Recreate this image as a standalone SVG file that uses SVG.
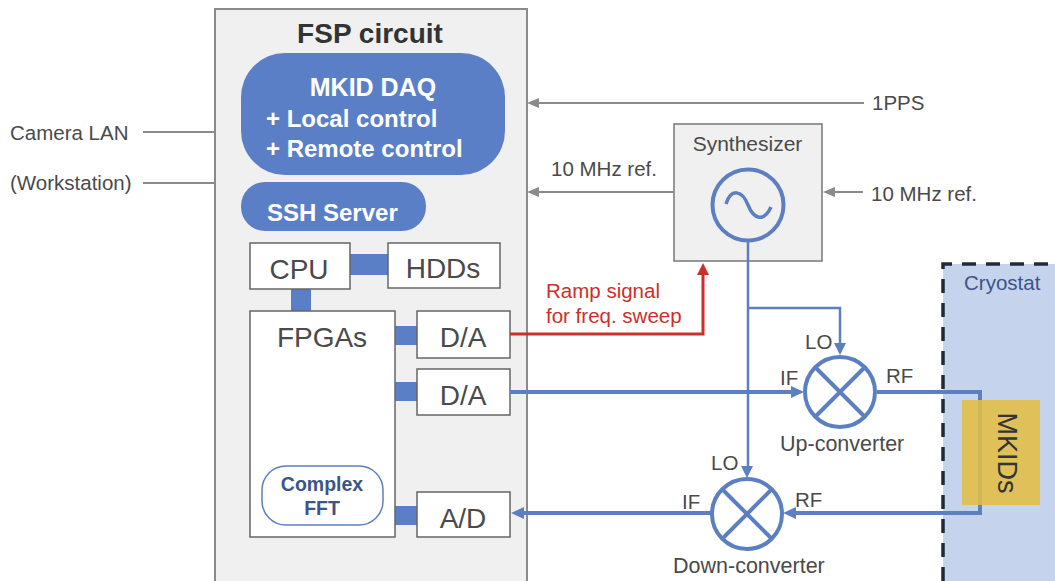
<svg xmlns="http://www.w3.org/2000/svg" width="1055" height="581" viewBox="0 0 1055 581">
<style>
text{font-family:"Liberation Sans",Arial,sans-serif;fill:#4a4a4a}
.box{fill:#fff;stroke:#666;stroke-width:1.5}
.w{fill:#fff;font-weight:700}
.bl{fill:#5b7fc7}
.g{fill:none;stroke:#8a8a8a;stroke-width:2}
.b{fill:none;stroke:#5b7fc0;stroke-width:4}
.t{fill:none;stroke:#5b7fc0;stroke-width:2.5}
.m{fill:none;stroke:#5b7fc0;stroke-width:4}
.s{font-size:20.5px}
.l{font-size:28px}
</style>
<rect width="1055" height="581" fill="#fff"/>
<g id="cryostat"><rect x="943" y="264" width="120" height="330" fill="#c5d3ec"/><path d="M943 581V264H1055" fill="none" stroke="#1f2a3a" stroke-width="3.5" stroke-dasharray="14 10"/><text x="964" y="290" font-size="20.5" style="fill:#3d5488">Cryostat</text></g>
<g id="fsp"><rect x="215" y="9" width="312" height="585" fill="#f0f0f0" stroke="#8a8a8a" stroke-width="2"/><text x="370" y="43" font-size="28" font-weight="700" text-anchor="middle" style="fill:#333">FSP circuit</text></g>
<g id="daq"><rect x="241" y="53" width="264" height="122" rx="44" fill="#5b7fc7"/><text class="w" x="373" y="96" font-size="25" text-anchor="middle">MKID DAQ</text><text class="w" x="266" y="127" font-size="24">+ Local control</text><text class="w" x="266" y="157" font-size="24">+ Remote control</text></g>
<g id="ssh"><rect x="241" y="182" width="185" height="49" rx="24" fill="#5b7fc7"/><text class="w" x="267" y="221" font-size="24">SSH Server</text></g>
<g id="links"><rect class="bl" x="350" y="254" width="38" height="21"/><rect class="bl" x="291" y="288" width="20" height="23"/><rect class="bl" x="395" y="326" width="23" height="19"/><rect class="bl" x="394" y="382" width="24" height="19"/><rect class="bl" x="395" y="506" width="23" height="19"/></g>
<g id="cpu"><rect class="box" x="250" y="243" width="100" height="46"/><text class="l" x="299" y="279" text-anchor="middle">CPU</text></g>
<g id="hdds"><rect class="box" x="388" y="243" width="112" height="45"/><text class="l" x="443" y="278" text-anchor="middle">HDDs</text></g>
<g id="fpgas"><rect class="box" x="250" y="311" width="145" height="226"/><text class="l" x="322" y="347" text-anchor="middle">FPGAs</text></g>
<g id="fft"><rect x="262" y="466" width="121" height="59" rx="24" fill="#fff" stroke="#5b7fc0" stroke-width="1.5"/><text x="322" y="491" font-size="19.5" font-weight="700" text-anchor="middle" style="fill:#3d5488">Complex</text><text x="322" y="515" font-size="19.5" font-weight="700" text-anchor="middle" style="fill:#3d5488">FFT</text></g>
<g id="da1"><rect class="box" x="417" y="311" width="93" height="47"/><text class="l" x="463" y="347" text-anchor="middle">D/A</text></g>
<g id="da2"><rect class="box" x="417" y="369" width="93" height="46"/><text class="l" x="463" y="405" text-anchor="middle">D/A</text></g>
<g id="ad"><rect class="box" x="417" y="492" width="93" height="45"/><text class="l" x="463" y="528" text-anchor="middle">A/D</text></g>
<g id="synth"><rect x="674" y="124" width="148" height="137" fill="#f0f0f0" stroke="#777" stroke-width="1.5"/><text x="747.5" y="151" font-size="21" text-anchor="middle">Synthesizer</text><circle cx="748" cy="205" r="35.5" fill="none" stroke="#5b7fc0" stroke-width="4"/><path d="M726 204C731 188 742 190 748 205S764 222 771 207" fill="none" stroke="#5b7fc0" stroke-width="3.5"/></g>
<g id="connectors">
<path class="g" d="M143 132H215M143 183H215"/>
<path class="g" d="M864 103H534M674 192H534M863 192H828"/>
<path d="M527 103L539 98V108ZM527 192L539 187V197ZM823 192L835 187V197Z" fill="#8a8a8a"/>
<path d="M510 334H703V272" fill="none" stroke="#cc2f2b" stroke-width="3"/><path d="M703 263L697 275H709Z" fill="#cc2f2b"/>
<path class="t" d="M748 241V468M748 308H840V345"/>
<path d="M840 355L834 343H846ZM747 478L741 466H753Z" fill="#5b7fc0"/>
<path class="b" d="M510 392H792"/><path d="M804 392L791 386V398Z" fill="#5b7fc0"/>
<path class="b" d="M877 392H980V513H795"/><path d="M783 513L796 507V519Z" fill="#5b7fc0"/>
<path class="b" d="M712 513H522"/><path d="M511 513L524 507V519Z" fill="#5b7fc0"/>
</g>
<g id="mkids"><rect x="962" y="400" width="78" height="105" fill="#e3bd44" fill-opacity=".88"/><text transform="translate(998 453) rotate(90)" font-size="27" text-anchor="middle" style="fill:#333">MKIDs</text></g>
<g id="upconverter"><circle cx="840" cy="392" r="35" class="m"/><path class="m" d="M816 368L864 416M864 368L816 416"/></g>
<g id="downconverter"><circle cx="747" cy="514" r="35" class="m"/><path class="m" d="M723 490L771 538M771 490L723 538"/></g>
<g id="labels">
<text class="s" x="10" y="140">Camera LAN</text>
<text class="s" x="10" y="190">(Workstation)</text>
<text class="s" x="872" y="110">1PPS</text>
<text class="s" x="551" y="176">10 MHz ref.</text>
<text class="s" x="871" y="201">10 MHz ref.</text>
<text class="s" x="546" y="298" style="fill:#cc2f2b">Ramp signal</text>
<text class="s" x="546" y="323" style="fill:#cc2f2b">for freq. sweep</text>
<text class="s" x="805" y="349">LO</text><text class="s" x="780" y="385">IF</text><text class="s" x="886" y="383">RF</text>
<text class="s" x="780" y="451" style="font-size:21.5px">Up-converter</text>
<text class="s" x="711" y="470">LO</text><text class="s" x="682" y="509">IF</text><text class="s" x="795" y="507">RF</text>
<text class="s" x="673" y="573" style="font-size:21.5px">Down-converter</text>
</g>
</svg>
